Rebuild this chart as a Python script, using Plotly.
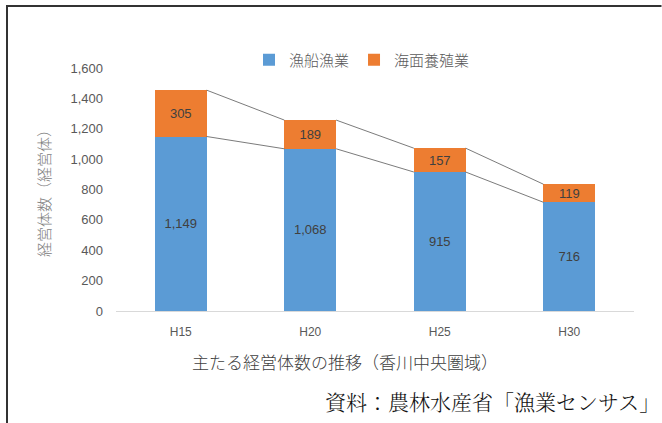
import plotly.graph_objects as go

categories = ["H15", "H20", "H25", "H30"]
gyosen = [1149, 1068, 915, 716]      # 漁船漁業
yoshoku = [305, 189, 157, 119]       # 海面養殖業
y_ticks = [0, 200, 400, 600, 800, 1000, 1200, 1400, 1600]

W, H = 662, 423
L, R, T, B = 116, 28, 68, 112
pw, ph = W - L - R, H - T - B

xs = list(range(len(categories)))
bw = 0.4

fig = go.Figure()
fig.add_trace(go.Bar(
    x=xs, y=gyosen, name="漁船漁業", width=bw,
    marker=dict(color="#5B9BD5", line=dict(width=0)),
    text=[f"{v:,}" for v in gyosen], textposition="inside", insidetextanchor="middle",
    textfont=dict(size=13, color="#404040", family="Liberation Sans, Noto Sans"),
))
fig.add_trace(go.Bar(
    x=xs, y=yoshoku, name="海面養殖業", width=bw,
    marker=dict(color="#ED7D31", line=dict(width=0)),
    text=[f"{v:,}" for v in yoshoku], textposition="inside", insidetextanchor="middle",
    textfont=dict(size=13, color="#404040", family="Liberation Sans, Noto Sans"),
))

# series lines connecting tops of segments
cum1 = gyosen
cum2 = [a + b for a, b in zip(gyosen, yoshoku)]
for cum in (cum1, cum2):
    lx, ly = [], []
    for i in range(len(xs) - 1):
        lx += [xs[i] + bw / 2, xs[i + 1] - bw / 2, None]
        ly += [cum[i], cum[i + 1], None]
    fig.add_trace(go.Scatter(x=lx, y=ly, mode="lines", showlegend=False,
                             line=dict(color="#595959", width=0.8), hoverinfo="skip"))

def px_x(p):
    return (p - L) / pw

def px_y(p):
    return (H - B - p) / ph

frame_path = (f"M {px_x(7)},{px_y(H)} L {px_x(7)},{px_y(6)} L {px_x(W - 0.5)},{px_y(6)}")

fig.update_layout(
    width=W, height=H, barmode="stack",
    margin=dict(l=L, r=R, t=T, b=B),
    paper_bgcolor="white", plot_bgcolor="white",
    font=dict(family="Noto Sans CJK JP", color="#595959"),
    uniformtext=dict(minsize=13, mode="show"),
    legend=dict(orientation="h", x=px_x(362), xanchor="center", y=px_y(60), yanchor="middle",
                font=dict(size=15, color="#595959", family="Noto Sans CJK JP", weight=300),
                itemwidth=30, traceorder="normal", bgcolor="rgba(0,0,0,0)"),
    xaxis=dict(range=[-0.5, 3.5], tickvals=xs, ticktext=categories,
               showline=True, linecolor="#D9D9D9", linewidth=1, showgrid=False, zeroline=False,
               ticks="", ticklabelstandoff=10,
               tickfont=dict(size=12, color="#595959", family="Liberation Sans, Noto Sans")),
    yaxis=dict(range=[0, 1600], tickvals=y_ticks, tickformat=",", showgrid=False,
               zeroline=False, showline=False, ticks="", ticklabelstandoff=12,
               tickfont=dict(size=13, color="#595959", family="Liberation Sans, Noto Sans"),
               title=dict(text="経営体数（経営体）", font=dict(size=15, color="#808080", weight=300),
                          standoff=16)),
    annotations=[
        dict(text="主たる経営体数の推移（香川中央圏域）", xref="paper", yref="paper",
             x=px_x(345), y=px_y(361), xanchor="center", yanchor="middle", showarrow=False,
             font=dict(size=17, color="#404040", family="Noto Sans CJK JP", weight=300)),
        dict(text="資料：農林水産省「漁業センサス」", xref="paper", yref="paper",
             x=px_x(662), y=px_y(401), xanchor="right", yanchor="middle", showarrow=False,
             font=dict(size=21, color="#111111", family="Noto Serif CJK JP, Noto Sans CJK JP",
                       weight=300)),
    ],
    shapes=[
        dict(type="path", xref="paper", yref="paper", path=frame_path,
             line=dict(color="#333333", width=2)),
    ],
)

fig.write_html("out.html", config={"displayModeBar": False},
               post_script="document.body.style.margin='0';document.body.style.padding='0';")
